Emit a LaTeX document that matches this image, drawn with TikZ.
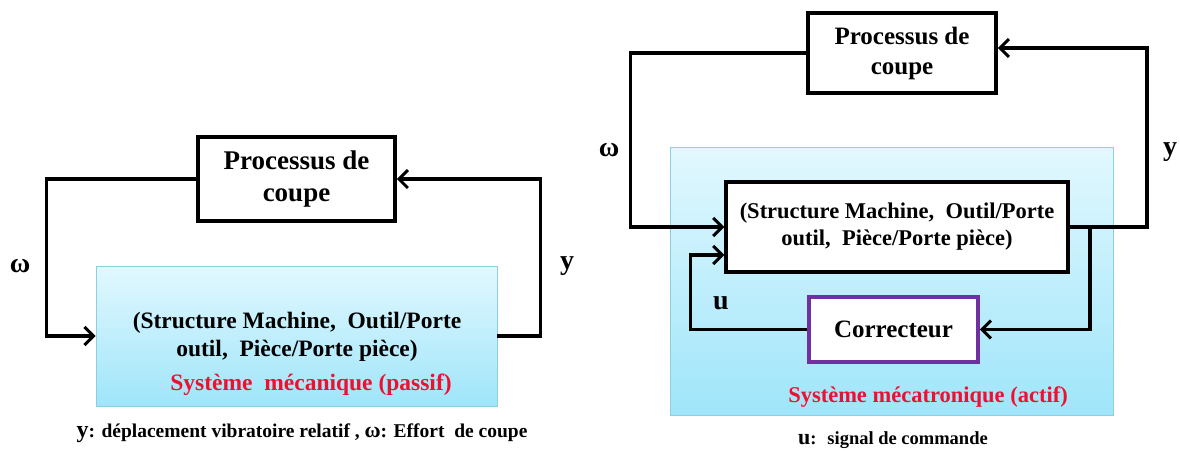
\documentclass[tikz,border=0pt]{standalone}
\usepackage{fontspec}
\setmainfont{Liberation Serif}
\usetikzlibrary{arrows.meta}
\definecolor{violetc}{HTML}{7030A0}
\definecolor{bleuh}{HTML}{E2F8FE}
\definecolor{bleub}{HTML}{9FE5FA}
\definecolor{bleubord}{HTML}{8CCFE0}
\definecolor{rouge}{HTML}{EE1030}
\tikzstyle{bloc} = [rectangle, draw=black, line width=3.5pt, fill=white, align=center, inner sep=0pt, font=\fontsize{27}{32}\selectfont\bfseries]
\tikzstyle{correcteur} = [bloc, draw=violetc]
\tikzstyle{systeme} = [rectangle, draw=bleubord, line width=0.8pt, top color=bleuh, bottom color=bleub, inner sep=0pt]
\tikzstyle{texte} = [align=center, inner sep=0pt, font=\fontsize{23.5}{28}\selectfont\bfseries]
\tikzstyle{rouge} = [texte, text=rouge]
\tikzstyle{signal} = [inner sep=0pt, font=\fontsize{28}{28}\selectfont\bfseries]
\tikzstyle{legende} = [inner sep=0pt, font=\fontsize{19.5}{19.5}\selectfont\bfseries]
\tikzstyle{arrow} = [line width=3.5pt, -{Straight Barb[length=9pt,width=18pt,line width=3pt]}]

\begin{document}
\begin{tikzpicture}[x=1pt, y=-1pt]
\useasboundingbox (0,0) rectangle (1180,450);

% systeme passif
\node (procL) [bloc, minimum width=197pt, minimum height=84pt] at (296.5,179) {Processus de\\coupe};
\node (meca) [systeme, minimum width=401pt, minimum height=140pt] at (296.5,336) {};
\node (structL) [texte] at (297,337) {(Structure Machine,~ Outil/Porte\\outil,~ Pièce/Porte pièce)};
\node (passif) [rouge] at (311,385) {Système~ mécanique (passif)};
\node (omegaL) [signal] at (20,266) {ω};
\node (yL) [signal] at (567,266) {y};
\node (legL) [legende] at (302,433) {{\fontsize{24}{24}\selectfont y}: déplacement vibratoire relatif , {\fontsize{22}{22}\selectfont ω}: Effort~ de coupe};

\draw [arrow] (procL.west) -- ++(-150,0) |- (meca.west);
\draw [arrow] (meca.east) -- ++(43,0) |- (procL.east);

% systeme actif
\node (actif) [systeme, minimum width=443pt, minimum height=268pt] at (891.5,281) {};
\node (procR) [bloc, minimum width=188pt, minimum height=80pt, font=\fontsize{25}{30}\selectfont\bfseries] at (902,53) {Processus de\\coupe};
\node (structR) [bloc, minimum width=342pt, minimum height=90pt, font=\fontsize{22.5}{27}\selectfont\bfseries] at (897,227) {(Structure Machine,~ Outil/Porte\\outil,~ Pièce/Porte pièce)};
\node (corr) [correcteur, minimum width=169pt, minimum height=65pt, font=\fontsize{25}{30}\selectfont\bfseries] at (893.5,329.5) {Correcteur};
\node (mecatro) [rouge, font=\fontsize{22.5}{28}\selectfont\bfseries] at (928,397) {Système mécatronique (actif)};
\node (omegaR) [signal] at (609,150) {ω};
\node (yR) [signal] at (1170,152) {y};
\node (u) [signal] at (721,303) {u};
\node (legR) [legende, font=\fontsize{18.5}{18.5}\selectfont\bfseries] at (893,440) {{\fontsize{22}{22}\selectfont u}:~ signal de commande};

\draw [arrow] (procR.west) -- ++(-176,0) |- (structR.west);
\draw [arrow] (structR.east) -- ++(77,0) |- ([yshift=5pt]procR.east);
\draw [arrow] ([xshift=20pt]structR.east) |- (corr.east);
\draw [arrow] (corr.west) -- ++(-117,0) |- ([yshift=-28pt]structR.west);

\end{tikzpicture}
\end{document}
